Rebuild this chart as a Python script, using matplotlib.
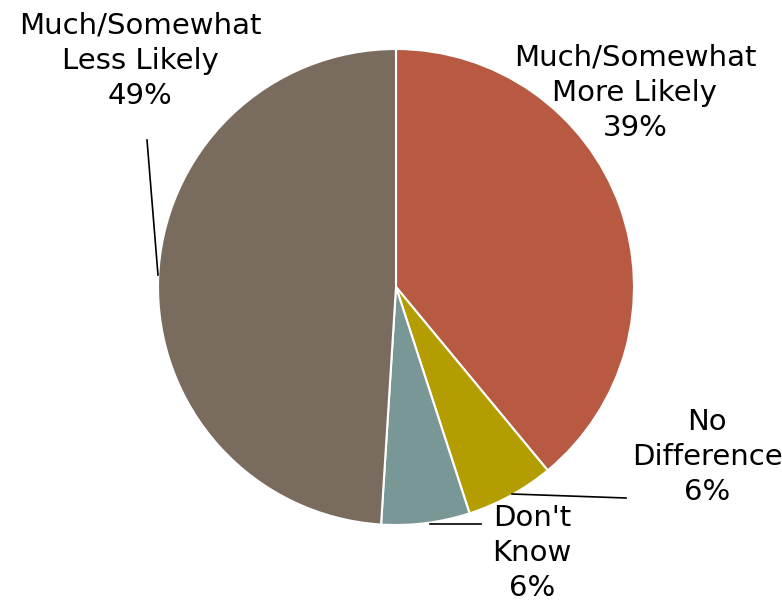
import matplotlib

matplotlib.use("Agg")
import matplotlib.pyplot as plt

labels = ["Much/Somewhat\nMore Likely", "No\nDifference", "Don't\nKnow",
          "Much/Somewhat\nLess Likely"]
values = [39, 6, 6, 49]
colors = ["#B85A42", "#B39D00", "#7A9798", "#7A6B5F"]

W, H = 782, 603
fig = plt.figure(figsize=(W / 100, H / 100), dpi=100)
ax = fig.add_axes([0, 0, 1, 1])

cx, cy, r = 396, H - 287, 238
ax.pie(values, colors=colors, startangle=90, counterclock=False,
       center=(cx, cy), radius=r, frame=True,
       wedgeprops=dict(edgecolor="white", linewidth=1.5))
ax.set_xlim(0, W)
ax.set_ylim(0, H)
ax.set_aspect("equal")
ax.set_axis_off()

# label positions (pixel coords, centre of text block)
pos = [(635, 93), (707, 457), (532, 553), (140, 61)]
for (px, py), lab, v in zip(pos, labels, values):
    ax.text(px, H - py, f"{lab}\n{v}%", ha="center", va="center",
            fontsize=21, linespacing=1.32, color="black",
            family="DejaVu Sans")

# leader lines
leaders = [((512, 494), (626, 498)), ((430, 524), (481, 524)),
           ((147, 140), (158, 275))]
for (x0, y0), (x1, y1) in leaders:
    ax.plot([x0, x1], [H - y0, H - y1], color="black", lw=1.2)

fig.savefig("out.png", dpi=100)
